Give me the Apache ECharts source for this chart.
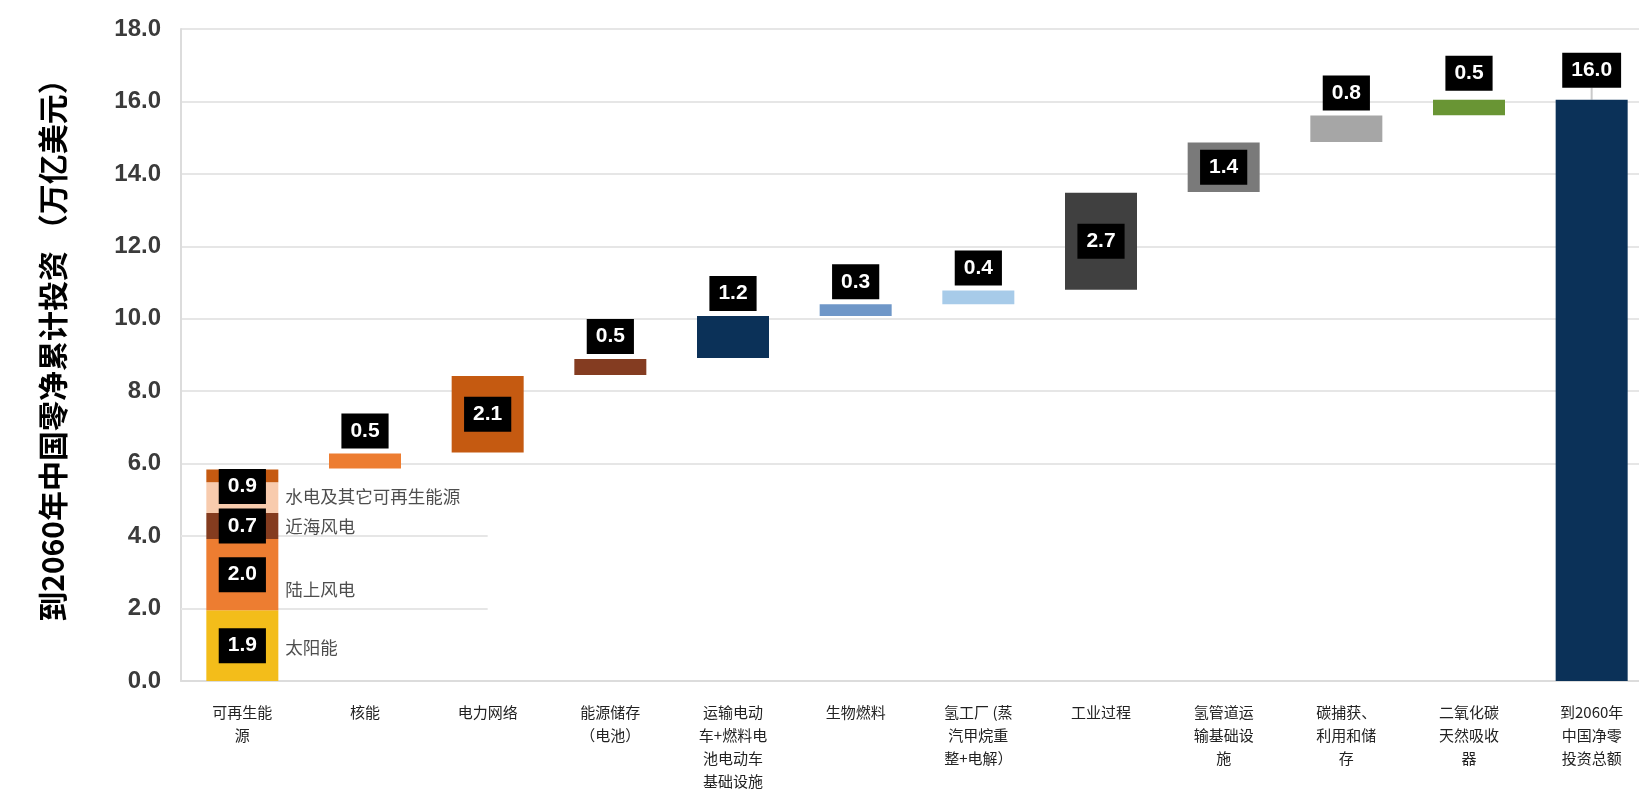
<!DOCTYPE html>
<html>
<head>
<meta charset="utf-8">
<script src="https://cdn.jsdelivr.net/npm/echarts@6/dist/echarts.min.js"></script>
<style>html,body{margin:0;padding:0;background:#fff;overflow:hidden;}#c{width:1653px;height:793px;}</style>
</head>
<body>
<div id="c"></div>
<script>
// ---- data ----
const categories = ['可再生能\n源','核能','电力网络','能源储存\n（电池）','运输电动\n车+燃料电\n池电动车\n基础设施','生物燃料','氢工厂 (蒸\n汽甲烷重\n整+电解）','工业过程','氢管道运\n输基础设\n施','碳捕获、\n利用和储\n存','二氧化碳\n天然吸收\n器','到2060年\n中国净零\n投资总额'];
// renewable stack (first column), segment tops
const renewNames  = ['太阳能','陆上风电','近海风电','水电及其它可再生能源',''];
const renewLabels = ['1.9','2.0','0.7','0.9',''];
const renewTops   = [1.95, 3.92, 4.64, 5.49, 5.84];
// floating steps: start / end of each bar
const stepStart  = [0, 5.87, 6.31, 8.45, 8.92, 10.08, 10.40, 10.80, 13.50, 14.88, 15.62, 0];
const stepEnd    = [0, 6.28, 8.42, 8.89, 10.08, 10.40, 10.78, 13.48, 14.87, 15.61, 16.05, 16.05];
const stepLabels = ['', '0.5','2.1','0.5','1.2','0.3','0.4','2.7','1.4','0.8','0.5','16.0'];
const yTicks = [0,2,4,6,8,10,12,14,16,18];

// ---- styles ----
const renewColors = ['#f3bd1a','#ed7d31','#843c1f','#f8cbad','#c55a11'];
const stepColors  = ['#ffffff','#ed7d31','#c55a11','#843c21','#0b3158','#6f97c8','#a7cbe9','#404040','#7a7a7a','#a6a6a6','#699534','#0b3158'];
const insideIdx = [2,7,8];
const topDist = {10: 9, 11: 12};
const noteDy = [2, 15, 0, -1];
const hydroBoxDy = -11;

const boxLabel = {
  color:'#fff', backgroundColor:'#000', fontFamily:'Liberation Sans', fontSize:21, fontWeight:'bold',
  lineHeight:23, padding:[6,9,6,9]
};

const n = categories.length;
const series = [];
// renewables
let prev = 0;
renewTops.forEach((top, k) => {
  const h = +(top - prev).toFixed(3);
  const data = categories.map((c,i) => i===0 ? {
    value: h,
    itemStyle:{color: renewColors[k]},
    label: renewLabels[k] ? Object.assign({show:true, position:'inside', formatter: renewLabels[k], offset:[0, k===3 ? hydroBoxDy : 0]}, boxLabel) : {show:false}
  } : 0);
  series.push({type:'bar', stack:'w', barWidth:72, data, silent:true, z:2});
  prev = top;
});
// transparent bases
series.push({type:'bar', stack:'w', barWidth:72, silent:true,
  itemStyle:{color:'transparent'}, data: stepStart.map((s,i)=> i===0 ? 0 : s)});
// floating bars
series.push({type:'bar', stack:'w', barWidth:72, silent:true, z:3,
  data: stepEnd.map((e,i) => {
    if (i===0) return 0;
    const inside = insideIdx.includes(i);
    return {
      value: +(e - stepStart[i]).toFixed(3),
      itemStyle:{color: stepColors[i]},
      label: Object.assign({show:true, position: inside ? 'inside' : 'top', distance: topDist[i] || 5, formatter: stepLabels[i]}, boxLabel)
    };
  })
});
// connector tick above the total bar (+ short gridline pieces at 2.0 / 4.0, drawn under bars)
series.push({type:'scatter', silent:true, symbol:'rect', symbolSize:[2,12], symbolOffset:[0,-6],
  itemStyle:{color:'#bdbdbd'}, z:1, data:[[n-1, stepEnd[n-1]]],
  markLine:{silent:true, symbol:'none', label:{show:false}, z:1,
    lineStyle:{color:'#e6e6e6', width:2, type:'solid'},
    data:[[{coord:[0,2], x:181},{coord:[2,2]}],[{coord:[0,4], x:181},{coord:[2,4]}]]}
});
// annotations beside the renewables column
let lo = 0;
const notes = [];
renewNames.forEach((nm,k) => {
  const hi = renewTops[k];
  if (nm) notes.push({value:[0, (lo+hi)/2], name:nm, label:{offset:[0, noteDy[k]]}});
  lo = hi;
});
series.push({type:'scatter', silent:true, symbolSize:0, z:5, data: notes,
  label:{show:true, position:'right', distance:43, formatter: p => p.name,
    color:'#222', fontSize:17.5, fontFamily:'Noto Sans CJK SC'}});

const chart = echarts.init(document.getElementById('c'), null, {renderer:'canvas'});
chart.setOption({
  animation:false,
  backgroundColor:'#fff',
  grid:{left:181, right:0, top:29, bottom:107, containLabel:false},
  xAxis:{
    type:'category', data:categories,
    axisLine:{show:true, lineStyle:{color:'#dcdcdc', width:2}},
    axisTick:{show:false},
    axisLabel:{interval:0, fontSize:15, lineHeight:23, color:'#222', margin:20, fontFamily:'Noto Sans CJK SC'}
  },
  yAxis:{
    type:'value', min:0, max:18, interval:2,
    name:'到2060年中国零净累计投资 （万亿美元）',
    nameLocation:'middle', nameRotate:90, nameGap:113,
    nameTextStyle:{fontSize:30, fontWeight:'bold', color:'#000', fontFamily:'Noto Sans CJK SC', padding:[0,0,0,24]},
    axisLine:{show:true, lineStyle:{color:'#dcdcdc', width:2}},
    axisTick:{show:false},
    axisLabel:{formatter: v => yTicks.includes(v) ? v.toFixed(1) : '', fontSize:24, fontWeight:'bold', color:'#3b3b3b', margin:20, fontFamily:'Liberation Sans'},
    splitLine:{show:true, lineStyle:{color: yTicks.map(t => (t===2||t===4) ? 'rgba(0,0,0,0)' : '#e6e6e6'), width:2}}
  },
  series
});
</script>
</body>
</html>
